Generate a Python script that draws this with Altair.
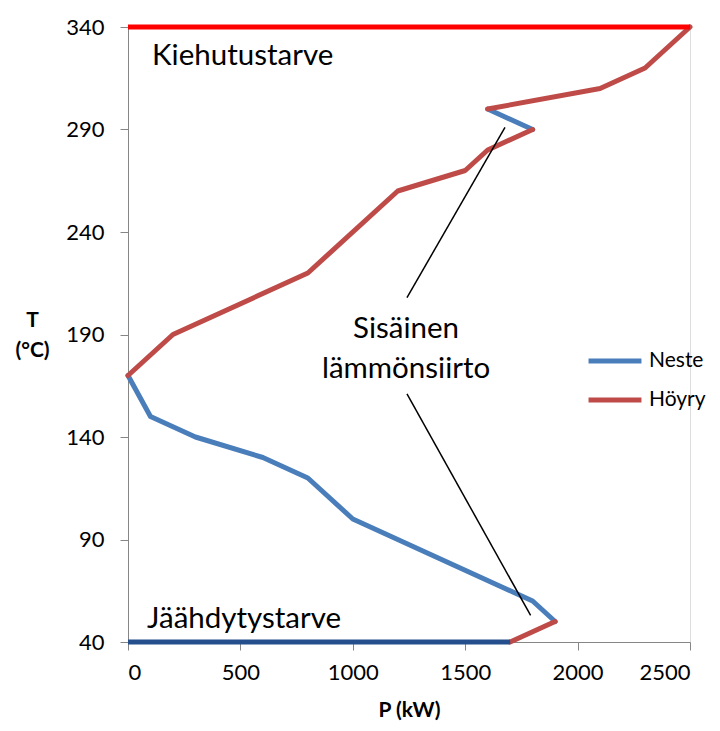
import altair as alt
import pandas as pd

# ---- data ----
# Neste (liquid) – main curve and short internal-transfer piece
neste_a_p = [1900, 1800, 1000, 800, 600, 300, 100, 0]
neste_a_t = [50, 60, 100, 120, 130, 140, 150, 170]
neste_b_p = [1800, 1600]
neste_b_t = [290, 300]

# Höyry (vapour)
hoyry_a_p = [1700, 1900]
hoyry_a_t = [40, 50]
hoyry_b_p = [0, 200, 800, 1200, 1500, 1600, 1800]
hoyry_b_t = [170, 190, 220, 260, 270, 280, 290]
hoyry_c_p = [1600, 2100, 2300, 2500]
hoyry_c_t = [300, 310, 320, 340]

# Heating / cooling demand lines
kiehu_p = [0, 2500]
kiehu_t = [340, 340]
jaah_p = [0, 1700]
jaah_t = [40, 40]

# Annotation pointer lines (data coords)
osoitin1_p = [1241, 1677]
osoitin1_t = [208, 291]
osoitin2_p = [1241, 1791]
osoitin2_t = [161, 53]

x_ticks = [0, 500, 1000, 1500, 2000, 2500]
y_ticks = [40, 90, 140, 190, 240, 290, 340]

FONT = "Lato"

rows = []
def add(ps, ts, sarja, osa):
    for i, (p, t) in enumerate(zip(ps, ts)):
        rows.append({"P": p, "T": t, "sarja": sarja, "osa": osa, "j": i})

add(neste_a_p, neste_a_t, "Neste", "na")
add(neste_b_p, neste_b_t, "Neste", "nb")
add(hoyry_a_p, hoyry_a_t, "Höyry", "ha")
add(hoyry_b_p, hoyry_b_t, "Höyry", "hb")
add(hoyry_c_p, hoyry_c_t, "Höyry", "hc")
df = pd.DataFrame(rows)

xs = alt.Scale(domain=[0, 2500], nice=False, zero=False)
ys = alt.Scale(domain=[40, 340], nice=False, zero=False)

xenc = alt.X("P:Q", scale=xs, title="P (kW)",
             axis=alt.Axis(values=x_ticks, format="d", grid=False, domainColor="#868686",
                           tickColor="#868686", tickSize=8, labelFontSize=22,
                           labelFont=FONT, labelColor="black", labelPadding=12,
                           titleFont=FONT, titleFontSize=21, titleFontWeight="bold",
                           titleColor="black", titlePadding=16))
yenc = alt.Y("T:Q", scale=ys, title=["T", "(°C)"],
             axis=alt.Axis(values=y_ticks, format="d", grid=False, domainColor="#868686",
                           tickColor="#868686", tickSize=8, labelFontSize=22,
                           labelFont=FONT, labelColor="black", labelPadding=16,
                           titleFont=FONT, titleFontSize=21, titleFontWeight="bold",
                           titleColor="black", titleAngle=0, titleAlign="center",
                           titleBaseline="top", titleX=-96, titleY=282,
                           titleLineHeight=30))

lines = alt.Chart(df).mark_line(strokeWidth=5, strokeCap="round", strokeJoin="round").encode(
    x=xenc, y=yenc,
    color=alt.Color("sarja:N",
                    scale=alt.Scale(domain=["Neste", "Höyry"], range=["#4A7EBB", "#BE4B48"]),
                    legend=alt.Legend(title=None, orient="none", legendX=458, legendY=305,
                                      symbolType="stroke", symbolSize=2800,
                                      symbolStrokeWidth=5, labelFontSize=21,
                                      labelFont=FONT, labelColor="black",
                                      labelOffset=5, rowPadding=-8)),
    detail="osa:N",
    order="j:Q",
)

top_df = pd.DataFrame({"P": kiehu_p, "T": kiehu_t})
bot_df = pd.DataFrame({"P": jaah_p, "T": jaah_t})
top_line = alt.Chart(top_df).mark_line(color="#FF0000", strokeWidth=5).encode(x="P:Q", y="T:Q")
bot_line = alt.Chart(bot_df).mark_line(color="#254F8C", strokeWidth=5).encode(x="P:Q", y="T:Q")

p1 = pd.DataFrame({"P": osoitin1_p, "T": osoitin1_t})
p2 = pd.DataFrame({"P": osoitin2_p, "T": osoitin2_t})
ptr1 = alt.Chart(p1).mark_line(color="black", strokeWidth=1.5).encode(x="P:Q", y="T:Q")
ptr2 = alt.Chart(p2).mark_line(color="black", strokeWidth=1.5).encode(x="P:Q", y="T:Q")

labels_df = pd.DataFrame({
    "P": [107, 85],
    "T": [321.5, 46.8],
    "txt": ["Kiehutustarve", "Jäähdytystarve"],
})
left_text = alt.Chart(labels_df).mark_text(align="left", baseline="alphabetic",
                                           fontSize=29.5, font=FONT, color="black").encode(
    x="P:Q", y="T:Q", text="txt:N")

mid_df = pd.DataFrame({
    "P": [1237, 1237],
    "T": [188.3, 168.8],
    "txt": ["Sisäinen", "lämmönsiirto"],
})
mid_text = alt.Chart(mid_df).mark_text(align="center", baseline="alphabetic",
                                       fontSize=29.5, font=FONT, color="black").encode(
    x="P:Q", y="T:Q", text="txt:N")

chart = alt.layer(lines, bot_line, top_line, ptr1, ptr2, left_text, mid_text).properties(
    width=562, height=615,
    autosize=alt.AutoSizeParams(type="none"),
    padding={"left": 120, "top": 19, "right": 22, "bottom": 80},
).configure_view(stroke=None).configure(background="white")

chart.save("out.html", embed_options={"renderer": "svg", "actions": False})
